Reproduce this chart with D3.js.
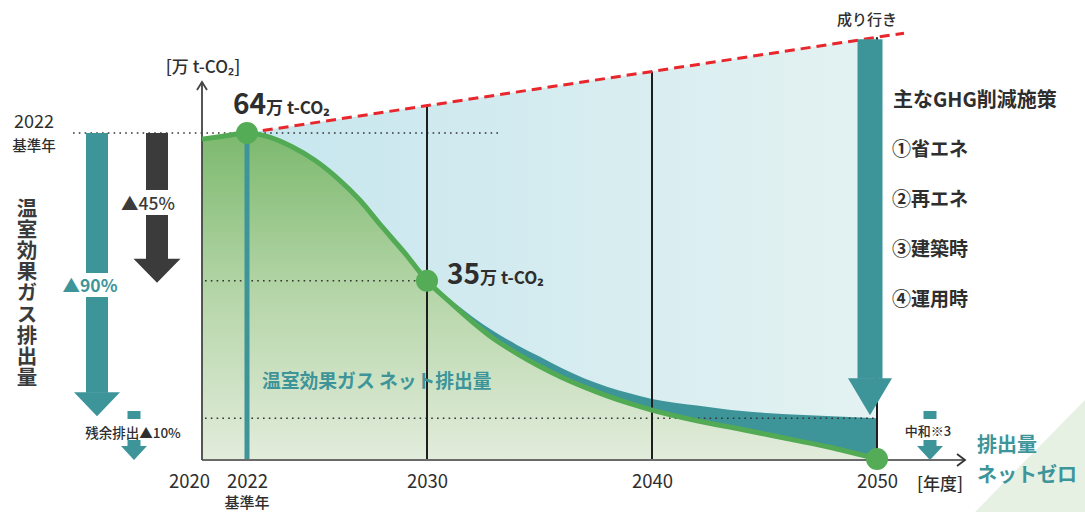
<!DOCTYPE html>
<html>
<head>
<meta charset="utf-8">
<script src="https://cdn.jsdelivr.net/npm/d3@7"></script>
<style>
  body { margin: 0; background: #fff; }
  svg { display: block; font-family: "Noto Sans CJK JP", "Noto Sans", sans-serif; }
</style>
</head>
<body>
<svg id="chart" width="1085" height="512"></svg>
<script>
// ---- data (万 t-CO2) ----
const netYears   = [2020, 2021, 2022, 2023, 2024, 2025, 2026, 2027, 2028, 2029, 2030, 2031, 2032, 2033, 2034, 2035, 2036, 2037, 2038, 2039, 2040, 2042, 2044, 2046, 2048, 2050];
const netValues  = [62.8, 63.4, 64, 63.2, 61.3, 58.7, 55.2, 50.9, 45.6, 40.5, 35, 30.9, 27.0, 23.5, 20.7, 18.2, 16.0, 14.1, 12.4, 10.9, 9.6, 7.5, 5.8, 4.0, 2.2, 0];
const grossYears  = [2030, 2031, 2032, 2033, 2034, 2035, 2036, 2037, 2038, 2039, 2040, 2042, 2044, 2046, 2048, 2050];
const grossValues = [35, 31.4, 28.0, 25.0, 22.4, 20.1, 17.8, 15.8, 14.2, 12.9, 11.8, 10.5, 9.4, 8.8, 8.4, 8.0];
const bauYears  = [2022, 2051.2];
const bauValues = [64, 83.6];
const tickYears  = [2020, 2022, 2030, 2040, 2050];
const tickLabels = ["2020", "2022", "2030", "2040", "2050"];
const markerYears  = [2022, 2030, 2050];
const markerValues = [64, 35, 0];
const gridYears = [2030, 2040, 2050];
const residualValue = 8;
const measures = ["①省エネ", "②再エネ", "③建築時", "④運用時"];
const sideTitle = "温室効果ガス排出量";

const svg = d3.select("#chart");
const x = d3.scaleLinear().domain([2020, 2050]).range([202, 877]);
const y = d3.scaleLinear().domain([0, 64]).range([459, 133]);
const bau = d3.scaleLinear().domain(bauYears).range(bauValues);

const C = {
  teal: "#3d959a", green: "#52aa54", dark: "#3b3b3b", text: "#2e2e2e",
  red: "#e8262b", axis: "#6a6a6a"
};

const net = netYears.map((yr, i) => ({ yr, v: netValues[i] }));
const gross = grossYears.map((yr, i) => ({ yr, v: grossValues[i] }));

// ---- gradients ----
const defs = svg.append("defs");
const gBlue = defs.append("linearGradient").attr("id", "gBlue")
  .attr("gradientUnits", "userSpaceOnUse")
  .attr("x1", x(2022)).attr("x2", x(2050)).attr("y1", 0).attr("y2", 0);
gBlue.append("stop").attr("offset", 0).attr("stop-color", "#c6e6ee");
gBlue.append("stop").attr("offset", 1).attr("stop-color", "#e4f2f2");
const gGreen = defs.append("linearGradient").attr("id", "gGreen")
  .attr("gradientUnits", "userSpaceOnUse")
  .attr("x1", 0).attr("x2", 0).attr("y1", y(64)).attr("y2", y(0));
gGreen.append("stop").attr("offset", 0).attr("stop-color", "#7cb96e");
gGreen.append("stop").attr("offset", 0.5).attr("stop-color", "#b6d6a9");
gGreen.append("stop").attr("offset", 1).attr("stop-color", "#e2ecdb");

// background corner triangle
svg.append("path")
  .attr("d", d3.line()([[1085, 400], [1085, 512], [975, 512]]) + "Z")
  .attr("fill", "#e6f0e3");

// ---- areas ----
const bauYearsFill = netYears.filter(d => d >= 2022);
svg.append("path")
  .datum(bauYearsFill)
  .attr("fill", "url(#gBlue)")
  .attr("d", d3.area().x(d => x(d)).y0(y(0)).y1(d => y(bau(d))));

svg.append("path")
  .datum(gross)
  .attr("fill", C.teal)
  .attr("d", d3.area().curve(d3.curveMonotoneX).x(d => x(d.yr)).y0(y(0)).y1(d => y(d.v)));

svg.append("path")
  .datum(net)
  .attr("fill", "url(#gGreen)")
  .attr("d", d3.area().curve(d3.curveMonotoneX).x(d => x(d.yr)).y0(y(0)).y1(d => y(d.v)));

// ---- dotted reference lines ----
const dotted = (x1, x2, yy) => svg.append("line")
  .attr("x1", x1).attr("x2", x2).attr("y1", yy).attr("y2", yy)
  .attr("stroke", "#333").attr("stroke-width", 1.6).attr("stroke-dasharray", "1.6,4.2");
dotted(73, 500, y(64));
dotted(205, x(2030), y(35));
dotted(205, x(2050), y(residualValue));

// ---- vertical year lines ----
svg.selectAll("line.grid").data(gridYears).join("line")
  .attr("class", "grid")
  .attr("x1", d => x(d)).attr("x2", d => x(d))
  .attr("y1", d => y(bau(d))).attr("y2", y(0))
  .attr("stroke", "#1e1e1e").attr("stroke-width", 2);

svg.append("line")
  .attr("x1", x(2022)).attr("x2", x(2022)).attr("y1", y(64)).attr("y2", y(0))
  .attr("stroke", C.teal).attr("stroke-width", 5);

// ---- BAU dashed line ----
svg.append("path")
  .datum(bauYears.map((yr, i) => [yr, bauValues[i]]))
  .attr("fill", "none").attr("stroke", C.red).attr("stroke-width", 3)
  .attr("stroke-dasharray", "10,6")
  .attr("d", d3.line().x(d => x(d[0])).y(d => y(d[1])));

// ---- axes ----
svg.append("line").attr("x1", x(2020)).attr("x2", 965).attr("y1", y(0) + 1).attr("y2", y(0) + 1)
  .attr("stroke", C.axis).attr("stroke-width", 2);
svg.append("path").attr("d", `M957,${y(0) - 5}L965,${y(0) + 1}L957,${y(0) + 7}`)
  .attr("fill", "none").attr("stroke", "#333").attr("stroke-width", 1.8);
svg.append("line").attr("x1", x(2020)).attr("x2", x(2020)).attr("y1", y(0) + 1).attr("y2", 82)
  .attr("stroke", "#444").attr("stroke-width", 1.8);
svg.append("path").attr("d", `M${x(2020) - 5},90L${x(2020)},82L${x(2020) + 5},90`)
  .attr("fill", "none").attr("stroke", "#444").attr("stroke-width", 1.8);

const xAxis = svg.append("g").attr("transform", `translate(0,${y(0) + 1})`)
  .call(d3.axisBottom(x).tickValues(tickYears).tickSize(0).tickPadding(15)
    .tickFormat((d, i) => tickLabels[i]));
xAxis.select(".domain").remove();
xAxis.selectAll("text")
  .attr("font-size", 18.5).attr("fill", C.text)
  .attr("font-family", "'Noto Sans CJK JP', sans-serif")
  .attr("dx", d => d === 2020 ? -13 : 0);

// ---- net emission line and markers ----
svg.append("path")
  .datum(net)
  .attr("fill", "none").attr("stroke", C.green).attr("stroke-width", 5)
  .attr("d", d3.line().curve(d3.curveMonotoneX).x(d => x(d.yr)).y(d => y(d.v)));

svg.selectAll("circle.marker").data(markerYears).join("circle")
  .attr("class", "marker")
  .attr("cx", d => x(d)).attr("cy", (d, i) => y(markerValues[i]))
  .attr("r", 11).attr("fill", "#54ac56");

// ---- arrows ----
function arrow(cx, top, tip, shaftW, headW, headH, color, gap) {
  const g = svg.append("g").attr("fill", color);
  const headTop = tip - headH;
  if (gap) {
    g.append("rect").attr("x", cx - shaftW / 2).attr("y", top).attr("width", shaftW).attr("height", gap[0] - top);
    g.append("rect").attr("x", cx - shaftW / 2).attr("y", gap[1]).attr("width", shaftW).attr("height", headTop - gap[1] + 0.5);
  } else {
    g.append("rect").attr("x", cx - shaftW / 2).attr("y", top).attr("width", shaftW).attr("height", headTop - top + 0.5);
  }
  g.append("path").attr("d", `M${cx - headW / 2},${headTop}L${cx + headW / 2},${headTop}L${cx},${tip}Z`);
}
arrow(97, y(64), y(residualValue) - 2, 22, 46, 24, C.teal, [273, 297]);
arrow(157, y(64), y(35) + 2, 22, 47, 24, C.dark, [190, 215]);
arrow(870, y(bau(2050)) + 2, y(residualValue) - 3, 25, 44, 37, C.teal, null);

function smallArrow(cx) {
  const g = svg.append("g").attr("fill", C.teal);
  g.append("rect").attr("x", cx - 6.5).attr("y", 411).attr("width", 13).attr("height", 8);
  g.append("rect").attr("x", cx - 6.5).attr("y", 440).attr("width", 13).attr("height", 7);
  g.append("path").attr("d", `M${cx - 13},446L${cx + 13},446L${cx},460Z`);
}
smallArrow(134);
smallArrow(930);

// ---- text ----
const txt = (s, xx, yy, size, opts = {}) => svg.append("text")
  .attr("x", xx).attr("y", yy).attr("font-size", size)
  .attr("font-weight", opts.w || 400).attr("fill", opts.c || C.text)
  .attr("text-anchor", opts.a || "start").text(s);

txt("[万 t-CO₂]", 203, 73, 17, { a: "middle", w: 500 });
txt("2022", 34, 128, 18, { a: "middle" });
txt("基準年", 34, 150.5, 14.5, { a: "middle", w: 500 });
txt("基準年", x(2022), 508, 15, { a: "middle", w: 500 });
txt("[年度]", 917, 490, 17, { w: 500 });

// value labels
const lab64 = txt("", 233, 114, 28, { w: 700 });
lab64.append("tspan").text("64");
lab64.append("tspan").attr("font-size", 17).text("万 t-CO₂");
const lab35 = txt("", 447, 284, 28, { w: 700 });
lab35.append("tspan").text("35");
lab35.append("tspan").attr("font-size", 17).text("万 t-CO₂");

txt("▲45%", 148, 210, 17.5, { a: "middle", w: 500, c: C.dark });
txt("▲90%", 90, 292, 17.5, { a: "middle", w: 700, c: C.teal });
txt("残余排出▲10%", 133, 438, 13.5, { a: "middle", w: 500 });
txt("中和※3", 928, 436, 13, { a: "middle", w: 500 });

txt("温室効果ガス ネット排出量", 262, 388, 18.8, { w: 700, c: C.teal });

// vertical title, set in vertical writing mode
svg.append("text")
  .attr("x", 27).attr("y", 198)
  .attr("writing-mode", "vertical-rl")
  .style("writing-mode", "vertical-rl")
  .attr("letter-spacing", 0.6)
  .attr("font-size", 20.5).attr("font-weight", 700)
  .attr("fill", C.dark).text(sideTitle);

// right side
txt("成り行き", 867, 25, 15, { a: "middle", w: 500 });
txt("主なGHG削減施策", 893, 107, 20, { w: 700 });
svg.selectAll("text.measure").data(measures).join("text")
  .attr("class", "measure")
  .attr("x", 892).attr("y", (d, i) => 156 + i * 50)
  .attr("font-size", 19).attr("font-weight", 700).attr("fill", C.text)
  .text(d => d);

txt("排出量", 977, 452, 20, { w: 700, c: C.teal });
txt("ネットゼロ", 977, 481.5, 20, { w: 700, c: C.teal });
</script>
</body>
</html>
